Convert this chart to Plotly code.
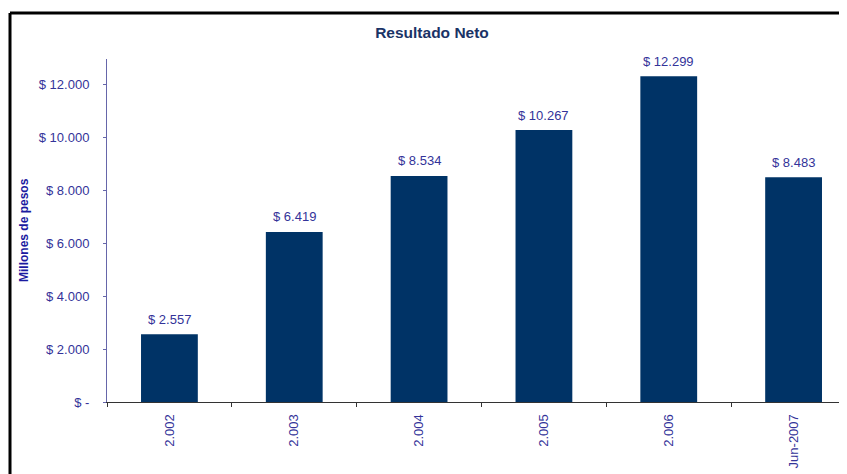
import plotly.graph_objects as go

categories = ["2.002", "2.003", "2.004", "2.005", "2.006", "Jun-2007"]
values = [2557, 6419, 8534, 10267, 12299, 8483]
ytick_vals = [0, 2000, 4000, 6000, 8000, 10000, 12000]
ytick_text = ["$ -", "$ 2.000", "$ 4.000", "$ 6.000", "$ 8.000", "$ 10.000", "$ 12.000"]

labels = ["$ " + f"{v:,}".replace(",", ".") for v in values]

OFF = 8  # page body margin
W, H = 847 - OFF, 474 - OFF
L, R, T, B = 107 - OFF, 0, 59 - OFF, 72
pw = W - L - R
ph = H - T - B

fig = go.Figure(go.Bar(
    x=categories, y=values,
    marker=dict(color="#003366", line=dict(width=0)),
    width=0.455, hoverinfo="skip",
))
fig.update_xaxes(type="category")
for i, (v, t) in enumerate(zip(values, labels)):
    fig.add_annotation(x=i, y=v, text=t, showarrow=False, yanchor="middle",
                       yshift=15, font=dict(size=13, color="#333399"))

fig.update_layout(
    width=W, height=H, margin=dict(l=L, r=R, t=T, b=B, pad=0),
    paper_bgcolor="white", plot_bgcolor="white", showlegend=False,
    font=dict(family="Liberation Sans, Arial", size=13, color="#333399"),
    title=dict(text="<b>Resultado Neto</b>", x=(432 - OFF) / W, xanchor="center",
               y=1 - (33 - OFF) / H, yanchor="middle",
               font=dict(size=15.5, color="#1a3366")),
)
fig.update_xaxes(
    range=[-0.5, 5.5 - (856 - 847) / 124.8], showline=True, linecolor="#333333",
    linewidth=1, ticks="outside", ticklen=4, tickcolor="#333333",
    tickson="boundaries", tickangle=-90, showgrid=False, zeroline=False,
    tickfont=dict(size=13, color="#333399"), ticklabelstandoff=6,
)
fig.update_yaxes(
    range=[0, 12950], tickvals=ytick_vals, ticktext=ytick_text,
    showline=True, linecolor="#6666aa", linewidth=1, ticks="outside",
    ticklen=3, tickcolor="#6666aa", showgrid=False, zeroline=False,
    tickfont=dict(size=13, color="#333399"), ticklabelstandoff=11,
)

x0 = (10 - 107) / pw
y0 = (402 - 13) / ph
fig.add_shape(type="line", xref="paper", yref="paper", x0=x0, x1=1.1, y0=y0, y1=y0,
              line=dict(color="black", width=3))
fig.add_shape(type="line", xref="paper", yref="paper", x0=x0, x1=x0, y0=y0, y1=-0.5,
              line=dict(color="black", width=3))

fig.add_annotation(text="<b>Millones de pesos</b>", xref="paper", yref="paper",
                   x=(24 - 107) / pw, y=(402 - 230) / ph, textangle=-90,
                   showarrow=False, xanchor="center", yanchor="middle",
                   font=dict(size=12, color="#1a1aa0"))

fig.write_html("out.html")
